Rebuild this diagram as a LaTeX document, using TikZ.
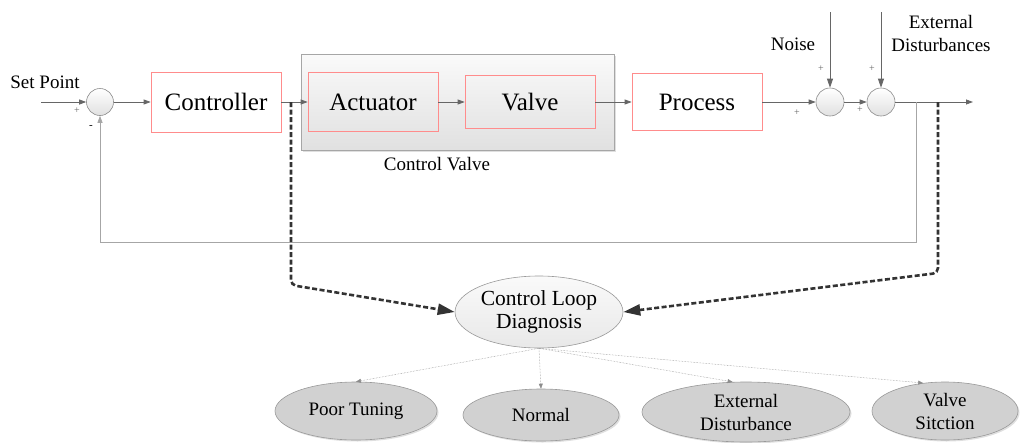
\documentclass[tikz,border=0pt]{standalone}
\usepackage{fontspec}
\setmainfont{LiberationSerif}[Extension=.ttf, UprightFont=*-Regular, BoldFont=*-Bold, ItalicFont=*-Italic]
\usetikzlibrary{arrows.meta,shapes.geometric,shadows}
\begin{document}
\begin{tikzpicture}[x=1pt,y=-1pt,
  blk/.style={draw=red!45, line width=0.7pt, minimum width=130pt, inner sep=0pt, font=\fontsize{25}{28}\selectfont},
  cvbox/.style={draw=black!35, line width=0.7pt, top color=black!2, bottom color=black!12,
    drop shadow={opacity=0.25, shadow xshift=1.5pt, shadow yshift=-1.5pt}, inner sep=0pt},
  sumc/.style={circle, draw=black!45, line width=0.6pt, top color=white, bottom color=black!12, inner sep=0pt},
  lbl/.style={font=\fontsize{19}{23}\selectfont, align=center, inner sep=0pt},
  pm/.style={font=\fontsize{10}{10}\selectfont, text=black!60, inner sep=0pt},
  sig/.style={draw=black!60, line width=0.8pt, -{Triangle[length=7pt,width=5pt]}},
  sigv/.style={draw=black!60, line width=0.8pt, -{Triangle[length=9pt,width=6pt]}},
  fb/.style={draw=black!35, line width=0.8pt, -{Triangle[length=7pt,width=5pt]}},
  diag/.style={draw=black!80, line width=2.6pt, dash pattern=on 5pt off 2.5pt, rounded corners=5pt,
    -{Triangle[length=17pt,width=11pt]}},
  outarr/.style={draw=black!45, line width=0.5pt, densely dotted, -{Triangle[length=5pt,width=4pt]}},
  outc/.style={ellipse, draw=black!40, line width=0.6pt, fill=black!18, inner sep=0pt,
    drop shadow={opacity=0.25, shadow xshift=1.5pt, shadow yshift=-1.5pt},
    font=\fontsize{19}{23}\selectfont, align=center}
]
\useasboundingbox (0,0) rectangle (1020,442);

% main blocks
\node[cvbox, minimum width=313pt, minimum height=96pt] (cv) at (457.5,102) {};
\node[blk, fill=white, minimum height=60pt] (ctrl) at (216,102) {Controller};
\node[blk, minimum height=59pt] (act) at (373,102) {Actuator};
\node[blk, minimum height=53pt] (valve) at (530,102) {Valve};
\node[blk, fill=white, minimum height=57pt] (proc) at (697,102) {Process};

% summing junctions
\node[sumc, minimum size=27pt] (s1) at (100,102) {};
\node[sumc, minimum size=28pt] (s2) at (830,102) {};
\node[sumc, minimum size=28pt] (s3) at (881,102) {};

% labels
\node[lbl] (sp) at (45,82) {Set Point};
\node[lbl] (cvl) at (437,164) {Control Valve};
\node[lbl] (noise) at (793,44) {Noise};
\node[lbl] (ext) at (941,33) {External\\Disturbances};

% signs
\node[pm] (p1) at (77,111) {+};
\node[font=\fontsize{11}{11}\selectfont, inner sep=0pt] (m1) at (91,127) {-};
\node[pm] (p2) at (821,69) {+};
\node[pm] (p3) at (872,69) {+};
\node[pm] (p4) at (797,113) {+};
\node[pm] (p5) at (860,110) {+};

% free ends
\coordinate (in) at (41,102);
\coordinate (nz) at (830,12);
\coordinate (ex) at (881,12);
\coordinate (out) at (973,102);
\coordinate (fbj) at (916,102);
\coordinate (fbb) at (916,242);
\coordinate (fbl) at (100,242);
\coordinate (tapL) at (291,102);
\coordinate (dl) at (291,285);
\coordinate (tapR) at (938,102);
\coordinate (dr) at (938,273);

% signal path
\draw[sig] (in) -- (s1);
\draw[sig] (s1) -- (ctrl);
\draw[sig] (ctrl) -- (act);
\draw[sig] (act) -- (valve);
\draw[sig] (valve) -- (proc);
\draw[sig] (proc) -- (s2);
\draw[sig] (s2) -- (s3);
\draw[sig] (s3) -- (out);
\draw[sigv] (nz) -- (s2);
\draw[sigv] (ex) -- (s3);
\draw[fb] (fbj) -- (fbb) -- (fbl) -- (s1);

% diagnosis
\node[ellipse, draw=black!40, line width=0.6pt, top color=black!2, bottom color=black!9, minimum width=168pt, minimum height=72pt,
  inner sep=0pt, font=\fontsize{21.5}{23}\selectfont, align=center] (cld) at (539,312) {Control Loop\\Diagnosis};
\draw[diag] (tapL) -- (dl) -- (cld.west);
\draw[diag] (tapR) -- (dr) -- (cld.east);

% outcomes
\node[outc, minimum width=162pt, minimum height=58pt] (pt) at (356,411) {Poor Tuning};
\node[outc, minimum width=156pt, minimum height=52pt] (nm) at (541,415) {Normal};
\node[outc, minimum width=208pt, minimum height=60pt] (ed) at (746,412) {External\\Disturbance};
\node[outc, minimum width=146pt, minimum height=58pt] (vs) at (945,411) {Valve\\Sitction};

\draw[outarr] (cld.south) -- (pt.north);
\draw[outarr] (cld.south) -- (nm.north);
\draw[outarr] (cld.south) -- (ed.114);
\draw[outarr] (cld.south) -- (vs.128);
\end{tikzpicture}
\end{document}
